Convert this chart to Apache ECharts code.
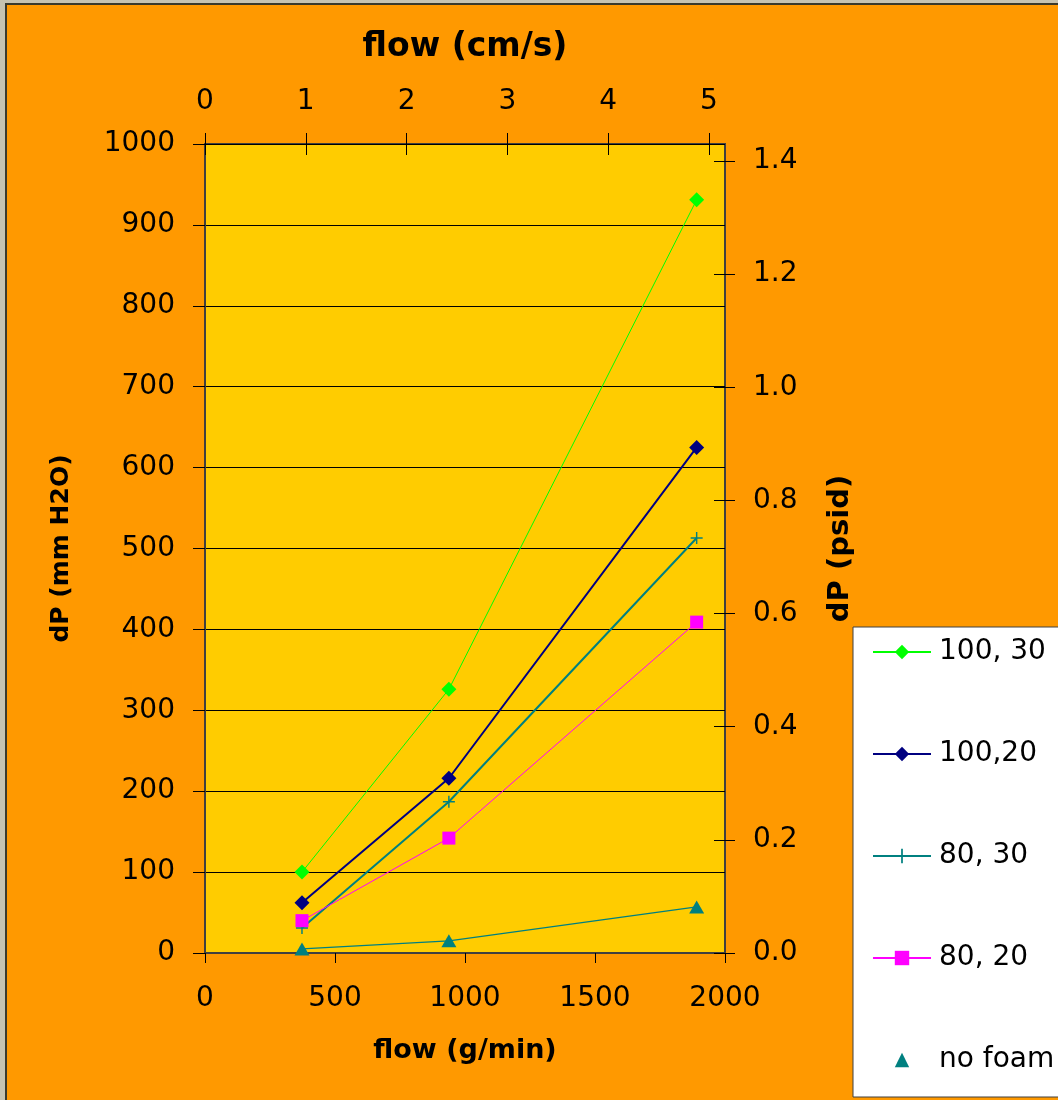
<!DOCTYPE html>
<html>
<head>
<meta charset="utf-8">
<script src="https://cdn.jsdelivr.net/npm/echarts@6.0.0/dist/echarts.min.js"></script>
<style>
  html, body { margin: 0; padding: 0; background: #c6c3b1; }
  #c { position: absolute; left: 0; top: 0; width: 1058px; height: 1100px; }
</style>
</head>
<body>
<div id="c"></div>
<script>
// ---- data ----
const flowGmin = [373, 938, 1891];
const s100_30 = [100, 326, 931];
const s100_20 = [62, 216, 625];
const s80_30 = [31, 187, 513];
const s80_20 = [40, 142, 409];
const sNoFoam = [5, 15, 57];
const seriesNames = ['100, 30', '100,20', '80, 30', '80, 20', 'no foam'];
const cmsTicks = [0, 1, 2, 3, 4, 5];
const psiTicks = [0, 0.2, 0.4, 0.6, 0.8, 1.0, 1.2, 1.4];

const pair = (ys) => flowGmin.map((x, i) => [x, ys[i]]);
const FONT = 'DejaVu Sans';
const plusPath = 'path://M4.4,0h1.2v10h-1.2zM0,4.4h10v1.2h-10z';

const chart = echarts.init(document.getElementById('c'), null, { renderer: 'canvas' });

const labelStyle = { color: '#000', fontFamily: FONT, fontSize: 28 };
const plain = (v) => String(v);

chart.setOption({
  backgroundColor: '#FF9900',
  animation: false,
  graphic: [
    { type: 'rect', shape: { x: 0, y: 0, width: 5, height: 1100 }, style: { fill: '#c6c3b1' } },
    { type: 'rect', shape: { x: 0, y: 0, width: 1058, height: 3 }, style: { fill: '#c6c3b1' } },
    { type: 'rect', shape: { x: 5, y: 3, width: 2, height: 1097 }, style: { fill: '#3a3a2c' } },
    { type: 'rect', shape: { x: 5, y: 3, width: 1053, height: 2 }, style: { fill: '#3a3a2c' } }
  ],
  grid: {
    left: 205, top: 144, width: 520, height: 809,
    show: true, backgroundColor: '#FFCC00', borderColor: '#404040', borderWidth: 2,
    containLabel: false
  },
  legend: {
    orient: 'vertical',
    left: 853, top: 627,
    padding: [10, 60, 22, 19],
    backgroundColor: '#ffffff',
    borderColor: '#404040', borderWidth: 1,
    itemWidth: 58, itemHeight: 18, itemGap: 72,
    textStyle: { color: '#000', fontFamily: FONT, fontSize: 28, lineHeight: 30, padding: [0, 0, 0, 3] },
    data: [
      { name: seriesNames[0] },
      { name: seriesNames[1] },
      { name: seriesNames[2] },
      { name: seriesNames[3] },
      { name: seriesNames[4], lineStyle: { width: 0, opacity: 0 } }
    ]
  },
  xAxis: [
    {
      type: 'value', position: 'bottom', min: 0, max: 2000, interval: 500,
      name: 'flow (g/min)', nameLocation: 'middle', nameGap: 84,
      nameTextStyle: { color: '#000', fontFamily: FONT, fontSize: 27, fontWeight: 'bold' },
      axisLine: { show: true, onZero: false, lineStyle: { color: '#404040', width: 2 } },
      axisTick: { show: true, inside: false, length: 10, lineStyle: { color: '#000', width: 1 } },
      axisLabel: Object.assign({ margin: 32, formatter: plain }, labelStyle),
      splitLine: { show: false }
    },
    {
      type: 'value', position: 'top', offset: -11, min: 0, max: 5.16,
      name: 'flow (cm/s)', nameLocation: 'middle', nameGap: 91,
      nameTextStyle: { color: '#000', fontFamily: FONT, fontSize: 33, fontWeight: 'bold' },
      axisLine: { show: false, onZero: false },
      axisTick: { show: true, inside: false, length: 22, customValues: cmsTicks, lineStyle: { color: '#000', width: 1 } },
      axisLabel: Object.assign({ margin: 39, customValues: cmsTicks, formatter: plain }, labelStyle),
      splitLine: { show: false }
    }
  ],
  yAxis: [
    {
      type: 'value', position: 'left', min: 0, max: 1000, interval: 100,
      name: 'dP (mm H2O)', nameLocation: 'middle', nameGap: 131, nameRotate: 90,
      nameTextStyle: { color: '#000', fontFamily: FONT, fontSize: 25, fontWeight: 'bold' },
      axisLine: { show: true, onZero: false, lineStyle: { color: '#404040', width: 2 } },
      axisTick: { show: true, inside: false, length: 12, lineStyle: { color: '#000', width: 1 } },
      axisLabel: Object.assign({ margin: 30, formatter: plain, padding: [4, 0, 0, 0] }, labelStyle),
      splitLine: { show: true, lineStyle: { color: '#000', width: 1 } }
    },
    {
      type: 'value', position: 'right', offset: -11, min: 0, max: 1.430,
      name: 'dP (psid)', nameLocation: 'middle', nameGap: 112, nameRotate: 90,
      nameTextStyle: { color: '#000', fontFamily: FONT, fontSize: 29, fontWeight: 'bold' },
      axisLine: { show: false, onZero: false },
      axisTick: { show: true, inside: false, length: 21, customValues: psiTicks, lineStyle: { color: '#000', width: 1 } },
      axisLabel: Object.assign({ margin: 39, customValues: psiTicks, formatter: (v) => v.toFixed(1), padding: [4, 0, 0, 0] }, labelStyle),
      splitLine: { show: false }
    }
  ],
  series: [
    {
      name: seriesNames[0], type: 'line', xAxisIndex: 0, yAxisIndex: 0,
      data: pair(s100_30), symbol: 'diamond', symbolSize: 15,
      lineStyle: { color: '#00FF00', width: 1 }, itemStyle: { color: '#00FF00' }, z: 5
    },
    {
      name: seriesNames[1], type: 'line', xAxisIndex: 0, yAxisIndex: 0,
      data: pair(s100_20), symbol: 'diamond', symbolSize: 15,
      lineStyle: { color: '#000080', width: 2 }, itemStyle: { color: '#000080' }, z: 4
    },
    {
      name: seriesNames[2], type: 'line', xAxisIndex: 0, yAxisIndex: 0,
      data: pair(s80_30), symbol: plusPath, symbolSize: 12,
      lineStyle: { color: '#008080', width: 2 }, itemStyle: { color: '#008080' }, z: 3
    },
    {
      name: seriesNames[3], type: 'line', xAxisIndex: 0, yAxisIndex: 0,
      data: pair(s80_20), symbol: 'rect', symbolSize: 13,
      lineStyle: { color: '#FF00FF', width: 1 }, itemStyle: { color: '#FF00FF' }, z: 6
    },
    {
      name: seriesNames[4], type: 'line', xAxisIndex: 0, yAxisIndex: 0,
      data: pair(sNoFoam), symbol: 'triangle', symbolSize: [15, 13],
      lineStyle: { color: '#008080', width: 1.2 }, itemStyle: { color: '#008080' }, z: 3
    }
  ]
});
</script>
</body>
</html>
